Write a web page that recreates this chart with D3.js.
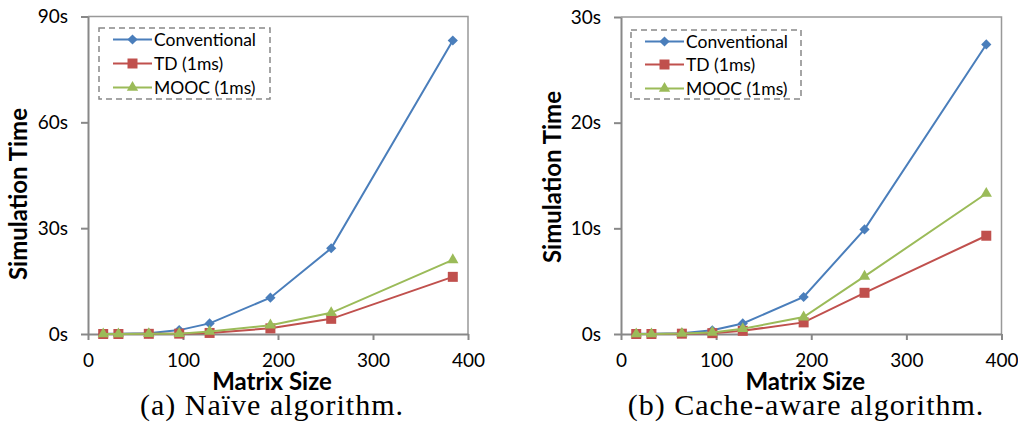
<!DOCTYPE html>
<html lang="en">
<head>
  <meta charset="UTF-8">
  <title>Simulation Time vs Matrix Size</title>
  <script src="https://d3js.org/d3.v7.min.js"></script>
  <style>
    body { margin: 0; background: #fff; }
    svg text { font-family: Lato, "Open Sans", sans-serif; fill: #000; }
  </style>
</head>
<body>
  <svg id="chart" width="1018" height="429"></svg>

  <script>
    // matrix sizes on the x axis (same for both panels)
    const matrixSizes = [16, 32, 64, 96, 128, 192, 256, 384];
    const seriesNames = ["Conventional", "TD (1ms)", "MOOC (1ms)"];
    const seriesColors = ["#4a7ebb", "#c0504d", "#9bbb59"];
    const xTicks = [0, 100, 200, 300, 400];

    // (a) naive algorithm, seconds
    const naiveConventional = [0.05, 0.1, 0.2, 1.1, 3.0, 10.3, 24.3, 83.2];
    const naiveTD = [0.0, 0.0, 0.05, 0.1, 0.3, 1.6, 4.3, 16.2];
    const naiveMOOC = [0.0, 0.0, 0.05, 0.1, 0.7, 2.5, 6.0, 21.0];
    const naiveTicks = [0, 30, 60, 90];

    // (b) cache-aware algorithm, seconds
    const cacheConventional = [0.02, 0.03, 0.08, 0.35, 1.0, 3.5, 9.9, 27.4];
    const cacheTD = [0.0, 0.0, 0.03, 0.08, 0.3, 1.1, 3.9, 9.3];
    const cacheMOOC = [0.0, 0.0, 0.04, 0.15, 0.5, 1.6, 5.45, 13.3];
    const cacheTicks = [0, 10, 20, 30];

    const svg = d3.select("#chart");

    function marker(kind) {
      if (kind === 0) return d3.symbol().type(d3.symbolSquare).size(52)();
      if (kind === 1) return d3.symbol().type(d3.symbolSquare).size(100)();
      return d3.symbol().type(d3.symbolTriangle).size(56)();
    }

    function drawPanel(p) {
      const g = svg.append("g");
      const x = d3.scaleLinear().domain([0, 400]).range([p.left, p.right]);
      const y = d3.scaleLinear().domain([0, p.yMax]).range([p.bottom, p.top]);

      // plot border (top and right)
      g.append("path")
        .attr("d", `M${p.left},${p.top}H${p.right}V${p.bottom}`)
        .attr("fill", "none").attr("stroke", "#999").attr("stroke-width", 1.5);

      const yAxis = g.append("g")
        .attr("transform", `translate(${p.left},0)`)
        .call(d3.axisLeft(y).tickValues(p.yTicks).tickFormat(d => d + "s")
          .tickSize(7).tickSizeOuter(0).tickPadding(13));
      const xAxis = g.append("g")
        .attr("transform", `translate(0,${p.bottom})`)
        .call(d3.axisBottom(x).tickValues(xTicks).tickSize(6).tickSizeOuter(0).tickPadding(14));
      [yAxis, xAxis].forEach(a => {
        a.selectAll("path, line").attr("stroke", "#888").attr("stroke-width", 2);
        a.selectAll("text").attr("font-size", 19).attr("fill", "#000");
      });

      const line = d3.line().x((d, i) => x(matrixSizes[i])).y(d => y(d));
      p.series.forEach((vals, s) => {
        g.append("path").datum(vals)
          .attr("d", line).attr("fill", "none")
          .attr("stroke", seriesColors[s]).attr("stroke-width", 2);
        g.selectAll(null).data(vals).enter().append("path")
          .attr("d", marker(s))
          .attr("transform", (d, i) => `translate(${x(matrixSizes[i])},${y(d)})` + (s === 0 ? " rotate(45)" : ""))
          .attr("fill", seriesColors[s]);
      });

      // legend
      const lg = g.append("g");
      lg.append("rect")
        .attr("x", p.legend.x).attr("y", p.legend.y)
        .attr("width", p.legend.w).attr("height", p.legend.h)
        .attr("fill", "#fff").attr("stroke", "#888")
        .attr("stroke-width", 1.5).attr("stroke-dasharray", "6,4");
      seriesNames.forEach((name, s) => {
        const ly = p.legend.rows[s];
        const lx = p.legend.x + 14;
        lg.append("line").attr("x1", lx).attr("x2", lx + 39)
          .attr("y1", ly).attr("y2", ly)
          .attr("stroke", seriesColors[s]).attr("stroke-width", 2);
        lg.append("path").attr("d", marker(s))
          .attr("transform", `translate(${lx + 19.5},${ly})` + (s === 0 ? " rotate(45)" : ""))
          .attr("fill", seriesColors[s]);
        lg.append("text").attr("x", lx + 41).attr("y", ly).attr("dy", "0.35em")
          .attr("font-size", 17.5).text(name);
      });

      g.append("text")
        .attr("transform", `translate(${p.yTitle[0]},${p.yTitle[1]}) rotate(-90)`)
        .attr("text-anchor", "middle").attr("dy", "0.35em")
        .attr("font-size", 24).attr("font-weight", "bold")
        .text("Simulation Time");
      g.append("text")
        .attr("x", (p.left + p.right) / 2 - 6).attr("y", 390)
        .attr("text-anchor", "middle")
        .attr("font-size", 24).attr("font-weight", "bold")
        .text("Matrix Size");
      g.append("text")
        .attr("x", p.captionX).attr("y", 415)
        .attr("text-anchor", "middle")
        .style("font-family", "'Liberation Serif', 'Times New Roman', serif")
        .style("letter-spacing", "1px")
        .attr("font-size", 30)
        .text(p.caption);
    }

    drawPanel({
      left: 88, right: 468, top: 16.5, bottom: 334,
      yMax: 90, yTicks: naiveTicks,
      series: [naiveConventional, naiveTD, naiveMOOC],
      legend: { x: 99, y: 28, w: 171, h: 71, rows: [39.5, 63.5, 87.5] },
      yTitle: [19, 194],
      caption: "(a) Naïve algorithm.", captionX: 272
    });

    drawPanel({
      left: 621, right: 1001.5, top: 17, bottom: 334,
      yMax: 30, yTicks: cacheTicks,
      series: [cacheConventional, cacheTD, cacheMOOC],
      legend: { x: 631, y: 30, w: 170, h: 69, rows: [41.5, 64.5, 88.5] },
      yTitle: [553, 177],
      caption: "(b) Cache-aware algorithm.", captionX: 806
    });
  </script>
</body>
</html>
